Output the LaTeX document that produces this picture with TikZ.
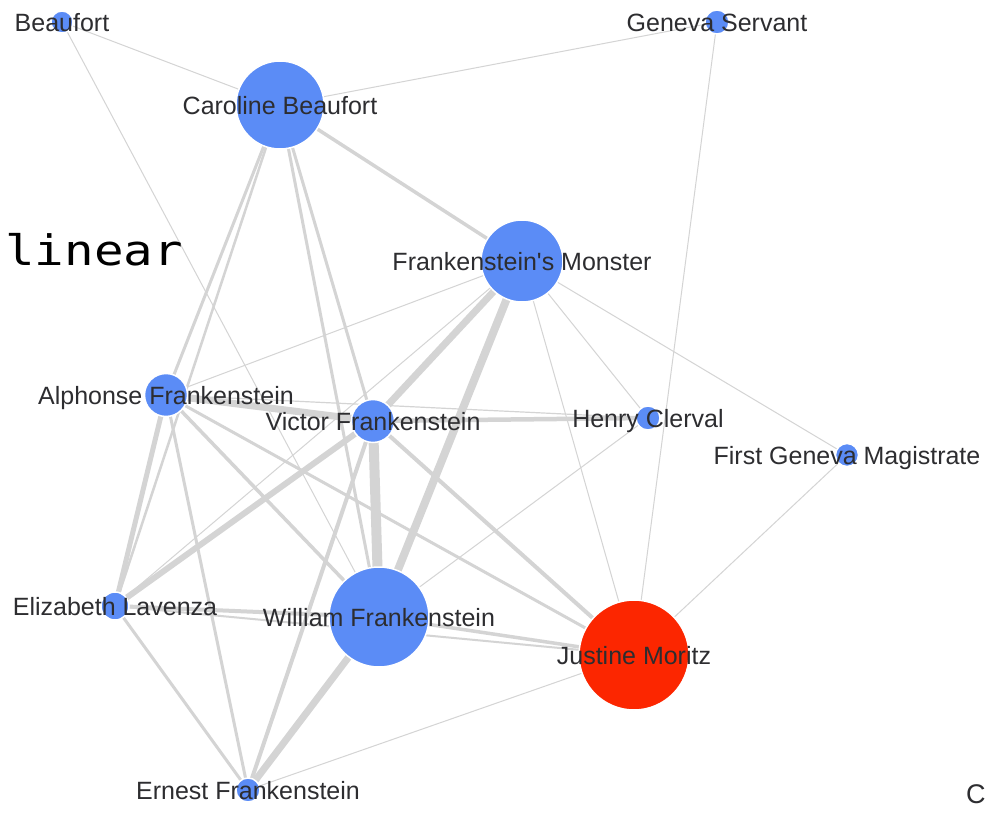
\documentclass[tikz,border=0pt]{standalone}
\usepackage{fontspec}
\setmainfont{Liberation Sans}[Ligatures=TeXOff]
\newfontfamily\codefont{DejaVu Sans Mono}
\usetikzlibrary{backgrounds}
\definecolor{nodeblue}{RGB}{91,140,246}
\definecolor{nodered}{RGB}{252,38,0}
\definecolor{edgegray}{RGB}{212,212,212}
\definecolor{labeltext}{RGB}{45,45,48}
\begin{document}
\begin{tikzpicture}[x=1pt,y=-1pt,
  person/.style={circle, fill=nodeblue, draw=white, line width=1.5pt, inner sep=0pt, minimum size=#1},
  redperson/.style={person=#1, fill=nodered},
  who/.style={font=\fontsize{25}{30}\selectfont, text=labeltext, inner sep=0pt, anchor=base},
  link/.style={draw=edgegray, line width=#1, line cap=butt},
  link/.default=1pt]
\useasboundingbox (0,0) rectangle (989,814);

% nodes
\node[person=22pt] (bea) at (62,22) {};
\node[person=24pt] (gs) at (717,22) {};
\node[person=88pt] (car) at (280,105) {};
\node[person=82pt] (mon) at (522,261) {};
\node[person=43pt] (alp) at (166,395) {};
\node[person=43pt] (vic) at (373,421) {};
\node[person=24pt] (hen) at (648,418) {};
\node[person=23pt] (mag) at (847,455) {};
\node[person=28pt] (eli) at (115,606) {};
\node[person=100pt] (wil) at (379,617) {};
\node[redperson=110pt] (jus) at (634,655) {};
\node[person=24pt] (ern) at (248,790) {};

% edges
\begin{pgfonlayer}{background}
\fill[white] (0,0) rectangle (989,814);
\draw[link] (bea.center) -- (car.center);
\draw[link] (bea.center) -- (wil.center);
\draw[link] (car.center) -- (gs.center);
\draw[link=3.5pt] (car.center) -- (mon.center);
\draw[link=3pt] (car.center) -- (alp.center);
\draw[link=2.5pt] (car.center) -- (eli.center);
\draw[link=3pt] (car.center) -- (vic.center);
\draw[link=3pt] (car.center) -- (wil.center);
\draw[link] (mon.center) -- (alp.center);
\draw[link=7pt] (mon.center) -- (vic.center);
\draw[link=8pt] (mon.center) -- (wil.center);
\draw[link] (mon.center) -- (eli.center);
\draw[link] (mon.center) -- (hen.center);
\draw[link] (mon.center) -- (mag.center);
\draw[link] (mon.center) -- (jus.center);
\draw[link] (gs.center) -- (jus.center);
\draw[link] (mag.center) -- (jus.center);
\draw[link=7pt] (alp.center) -- (vic.center);
\draw[link=1.2pt] (alp.center) -- (hen.center);
\draw[link=5pt] (alp.center) -- (eli.center);
\draw[link=3pt] (alp.center) -- (ern.center);
\draw[link=3.5pt] (alp.center) -- (wil.center);
\draw[link=3pt] (alp.center) -- (jus.center);
\draw[link=4.5pt] (vic.center) -- (hen.center);
\draw[link=6pt] (vic.center) -- (eli.center);
\draw[link=10pt] (vic.center) -- (wil.center);
\draw[link=4pt] (vic.center) -- (ern.center);
\draw[link=4pt] (vic.center) -- (jus.center);
\draw[link] (hen.center) -- (wil.center);
\draw[link=4pt] (eli.center) -- (wil.center);
\draw[link=2pt] (eli.center) -- (jus.center);
\draw[link=3pt] (eli.center) -- (ern.center);
\draw[link=3.5pt] (wil.center) -- (jus.center);
\draw[link=7pt] (wil.center) -- (ern.center);
\draw[link] (jus.center) -- (ern.center);
\end{pgfonlayer}

% labels
\node[who] (beaL) at ([yshift=-9pt]bea.center) {Beaufort};
\node[who] (gsL) at ([yshift=-9pt]gs.center) {Geneva Servant};
\node[who] (carL) at ([yshift=-9pt]car.center) {Caroline Beaufort};
\node[who] (monL) at ([yshift=-9pt]mon.center) {Frankenstein's Monster};
\node[who] (alpL) at ([yshift=-9pt]alp.center) {Alphonse Frankenstein};
\node[who] (vicL) at ([yshift=-9pt]vic.center) {Victor Frankenstein};
\node[who] (henL) at ([yshift=-9pt]hen.center) {Henry Clerval};
\node[who] (magL) at ([yshift=-9pt]mag.center) {First Geneva Magistrate};
\node[who] (eliL) at ([yshift=-9pt]eli.center) {Elizabeth Lavenza};
\node[who] (wilL) at ([yshift=-9pt]wil.center) {William Frankenstein};
\node[who] (jusL) at ([yshift=-9pt]jus.center) {Justine Moritz};
\node[who] (ernL) at ([yshift=-9pt]ern.center) {Ernest Frankenstein};

% stray texts
\node[anchor=base east, inner sep=0pt, text=black, font=\codefont\fontsize{42}{48}\selectfont, xscale=1.17] (code) at (183,265) {linear};
\node[anchor=base west, inner sep=0pt, text=labeltext, font=\fontsize{27}{32}\selectfont] (cee) at (966,803) {C};
\end{tikzpicture}
\end{document}
